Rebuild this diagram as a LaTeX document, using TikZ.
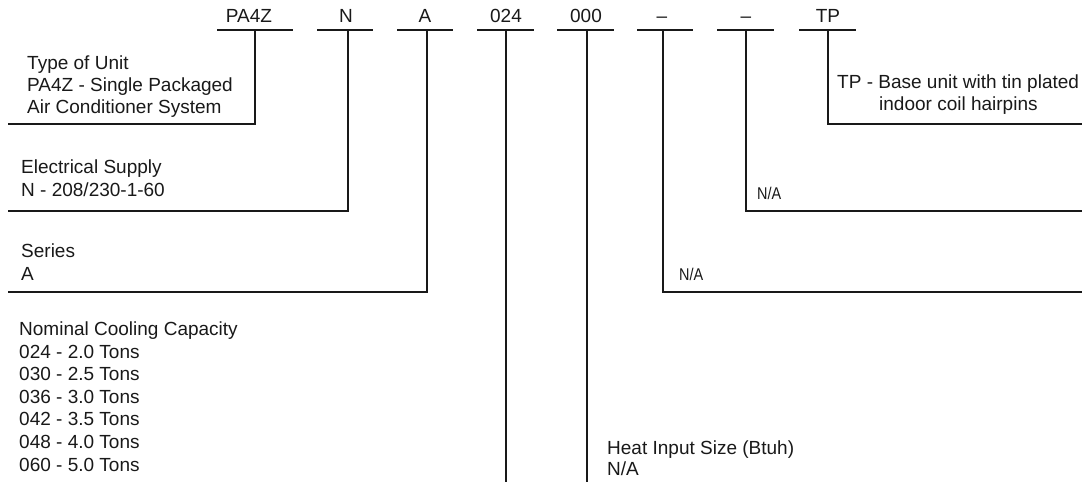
\documentclass[tikz,border=0pt]{standalone}
\usepackage{fontspec}
\setmainfont{Liberation Sans}
\newfontfamily\narrowfont[FakeStretch=0.85]{Liberation Sans}
\usepackage{tikz}
\tikzset{code/.style={inner sep=0pt,anchor=base,text=black!90,font=\fontsize{19}{22}\selectfont}}
\tikzset{desc/.style={inner sep=0pt,anchor=base west,align=left,text=black!90,font=\fontsize{19}{22}\selectfont}}
\tikzset{na/.style={inner sep=0pt,anchor=base west,text=black!90,font=\narrowfont\fontsize{17}{20}\selectfont}}
\tikzset{bar/.style={line width=1.6pt,draw=black!90}}

\begin{document}
\begin{tikzpicture}[x=1pt,y=-1pt]
        \useasboundingbox (0,0) rectangle (1082,482);

        % model number fields
        \node[code] (pa) at (249,22) {PA4Z};
        \node[code] (n) at (346,22) {N};
        \node[code] (a) at (425,22) {A};
        \node[code] (cap) at (506,22) {024};
        \node[code] (heat) at (586,22) {000};
        \node[code] (opt1) at (662,22) {--};
        \node[code] (opt2) at (746,22) {--};
        \node[code] (tp) at (828,22) {TP};

        % where the leaders leave the underlines
        \coordinate (pa-t) at (255,30);
        \coordinate (n-t) at (348,30);
        \coordinate (a-t) at (427,30);
        \coordinate (cap-t) at (506,30);
        \coordinate (heat-t) at (587,30);
        \coordinate (opt1-t) at (663,30);
        \coordinate (opt2-t) at (746,30);
        \coordinate (tp-t) at (828,30);

        % where the leaders end
        \coordinate (pa-e) at (8,124);
        \coordinate (n-e) at (8,211);
        \coordinate (a-e) at (8,292);
        \coordinate (cap-e) at (506,482);
        \coordinate (heat-e) at (587,482);
        \coordinate (opt1-e) at (1082,292);
        \coordinate (opt2-e) at (1082,211);
        \coordinate (tp-e) at (1082,124);

        % descriptions (base = last line)
        \node[desc] (pa-d) at (27,113) {Type of Unit\\PA4Z - Single Packaged\\Air Conditioner System};
        \node[desc,font=\fontsize{19}{23}\selectfont] (n-d) at (21,196) {Electrical Supply\\N - 208/230-1-60};
        \node[desc,font=\fontsize{19}{23}\selectfont] (a-d) at (21,280) {Series\\A};
        \node[desc,font=\fontsize{19}{22.6}\selectfont] (cap-d) at (19,471) {Nominal Cooling Capacity\\024 - 2.0 Tons\\030 - 2.5 Tons\\036 - 3.0 Tons\\042 - 3.5 Tons\\048 - 4.0 Tons\\060 - 5.0 Tons};
        \node[desc,font=\fontsize{19}{21}\selectfont] (heat-d) at (607,475) {Heat Input Size (Btuh)\\N/A};
        \node[na] (opt1-d) at (679,280) {N/A};
        \node[na] (opt2-d) at (757,199) {N/A};
        \node[desc] (tp-d) at (837,110) {TP - Base unit with tin plated\\\hspace*{42pt}indoor coil hairpins};

        % underlines
        \draw[bar] ([xshift=-38]pa-t) -- ([xshift=38]pa-t);
        \draw[bar] ([xshift=-31]n-t) -- ([xshift=25]n-t);
        \draw[bar] ([xshift=-30]a-t) -- ([xshift=26]a-t);
        \draw[bar] ([xshift=-29]cap-t) -- ([xshift=28]cap-t);
        \draw[bar] ([xshift=-30]heat-t) -- ([xshift=27]heat-t);
        \draw[bar] ([xshift=-26]opt1-t) -- ([xshift=30]opt1-t);
        \draw[bar] ([xshift=-29]opt2-t) -- ([xshift=28]opt2-t);
        \draw[bar] ([xshift=-29]tp-t) -- ([xshift=28]tp-t);

        % leaders
        \draw[bar] (pa-t) |- (pa-e);
        \draw[bar] (n-t) |- (n-e);
        \draw[bar] (a-t) |- (a-e);
        \draw[bar] (cap-t) -- (cap-e);
        \draw[bar] (heat-t) -- (heat-e);
        \draw[bar] (opt1-t) |- (opt1-e);
        \draw[bar] (opt2-t) |- (opt2-e);
        \draw[bar] (tp-t) |- (tp-e);
\end{tikzpicture}
\end{document}
